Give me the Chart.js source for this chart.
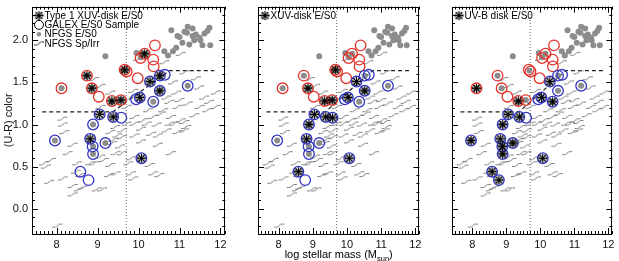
<!DOCTYPE html>
<html>
<head>
<meta charset="utf-8">
<script src="https://cdn.jsdelivr.net/npm/chart.js@4/dist/chart.umd.min.js"></script>
<style>
  body { margin: 0; background: #fff; }
  #wrap { position: relative; width: 619px; height: 261px; }
  canvas { position: absolute; top: 0; }
</style>
</head>
<body>
<div id="wrap">
  <canvas id="p1" width="232" height="261" style="left:0px"></canvas>
  <canvas id="p2" width="200" height="261" style="left:226px"></canvas>
  <canvas id="p3" width="199" height="261" style="left:420px"></canvas>
</div>
<script>
// NFGS Sp/Irr (squiggles)
const spIrrMass = [9.99, 11.03, 10.63, 8.91, 9.07, 9.31, 9.76, 9.87, 10.84, 11.12, 11.40, 11.48, 10.92, 10.68,
  11.60, 11.88, 11.72, 11.20, 10.95, 10.75, 11.00, 11.49, 11.88, 11.68, 11.36, 11.03, 10.79, 10.55, 10.23,
  9.90, 10.11, 10.35, 10.60, 11.12, 9.07, 9.71, 8.14, 8.19,
  9.90, 10.06, 10.31, 10.47, 10.68, 10.95, 11.11, 11.16, 10.87, 10.44, 10.20, 10.76, 9.90, 10.06, 10.47,
  10.79, 10.27, 9.82, 10.51, 10.36, 9.82, 9.31, 9.43, 9.71, 9.59, 9.39, 9.55, 9.60, 9.48, 9.36, 9.44, 9.59,
  9.75, 9.87,
  8.15, 8.39, 8.27, 7.86, 7.74, 7.69, 7.82, 8.15, 8.47, 8.39, 8.39, 8.63, 8.54, 8.91, 9.15, 9.07, 9.28,
  9.44, 9.31, 9.11, 8.98, 8.58, 8.82, 8.50, 8.02];
const spIrrColor = [1.78, 1.84, 1.74, 1.54, 1.46, 1.38, 1.31, 1.40, 1.50, 1.62, 1.55, 1.44, 1.38, 1.32,
  1.32, 1.38, 1.27, 1.25, 1.21, 1.27, 1.29, 1.21, 1.21, 1.17, 1.11, 1.05, 1.09, 1.13, 1.17,
  1.09, 1.05, 1.09, 1.17, 1.03, 1.21, 1.21, 1.07, 0.91,
  1.01, 0.95, 0.89, 0.87, 0.93, 0.91, 0.93, 0.97, 1.01, 1.00, 1.01, 1.01, 0.87, 0.80, 0.76,
  0.66, 0.52, 0.42, 0.40, 0.42, 0.60, 0.91, 0.97, 1.01, 0.85, 0.82, 0.74, 0.93, 0.87, 0.78, 0.66, 0.66,
  0.54, 0.36,
  1.00, 0.76, 0.66, 0.58, 0.50, 0.54, 0.32, 0.36, 0.44, 0.27, 0.17, 0.25, 0.23, 0.54, 0.58, 0.62, 0.40,
  0.42, 0.52, 0.23, 0.23, 0.40, 0.54, 0.54, -0.20];

// NFGS E/S0 (grey dots)
const e0Mass = [10.80, 11.00, 11.12, 11.20, 11.07, 11.32, 11.40, 11.49, 11.73, 11.61, 11.75, 10.92, 11.24,
  10.72, 10.84, 9.19, 9.95, 11.32, 11.18, 10.95, 11.36, 11.68, 11.56, 10.63, 11.51,
  8.12, 8.74, 8.86, 9.35, 9.57, 9.68, 10.15, 10.05, 8.89, 10.52, 10.36, 10.52, 11.20,
  7.96, 8.89, 8.89, 9.19];
const e0Color = [2.12, 2.04, 2.10, 2.16, 1.97, 2.05, 2.07, 2.03, 2.15, 2.08, 1.94, 1.91, 1.95,
  1.82, 1.87, 1.81, 1.85, 2.14, 2.09, 2.05, 2.00, 2.11, 1.94, 1.87, 2.00,
  1.43, 1.58, 1.43, 1.27, 1.29, 1.64, 1.84, 1.80, 1.00, 1.58, 1.27, 1.40, 1.46,
  0.81, 0.74, 0.65, 0.78];

// GALEX E/S0 sample (circles), seq: r = red sequence, b = blue sequence
const galexMass = [8.12, 8.74, 8.86, 9.03, 9.35, 9.57, 9.66, 9.71, 9.98, 10.15, 10.05, 10.40, 10.36, 10.37,
  8.89, 9.05, 9.38, 9.58, 10.03, 9.94, 10.28, 10.52, 10.64, 10.52, 10.36, 11.20,
  7.96, 8.82, 8.88, 8.89, 9.19, 8.58, 8.78, 10.07];
const galexColor = [1.43, 1.58, 1.43, 1.33, 1.28, 1.29, 1.65, 1.63, 1.55, 1.84, 1.79, 1.94, 1.77, 1.69,
  1.00, 1.12, 1.09, 1.08, 1.32, 1.30, 1.51, 1.58, 1.59, 1.40, 1.27, 1.46,
  0.81, 0.83, 0.74, 0.65, 0.78, 0.44, 0.34, 0.60];
const galexSeq = ['r','r','r','r','r','r','r','r','r','r','r','r','r','r',
  'b','b','b','b','b','b','b','b','b','b','b','b','b','b','b','b','b','b','b','b'];

// which GALEX galaxies carry the star in each panel
const type1Xuv = [1, 2, 4, 5, 6, 9, 15, 16, 18, 20, 21, 23, 27, 33];
const xuvDisk = [2, 4, 5, 6, 14, 15, 16, 17, 18, 20, 23, 27, 31, 33];
const uvbDisk = [0, 4, 14, 15, 16, 18, 20, 24, 26, 27, 28, 29, 30, 31, 32, 33];

// dividing lines
const divMass = [7.65, 9.37, 10.75, 11.85];
const divColor = [1.15, 1.15, 1.64, 1.64];
const cutMass = 9.7;

const xTicks = [8, 9, 10, 11, 12];
const yTicks = [0, 0.5, 1.0, 1.5, 2.0];

const FONT = "'Liberation Sans', Arial, Helvetica, sans-serif";
const RED = '#e5332b', BLUE = '#3236c2', GREY = '#8c8c8c', SQ = '#7c7c7c';

// little marker images
function makeStar() {
  const c = document.createElement('canvas'); c.width = 13; c.height = 13;
  const g = c.getContext('2d');
  g.strokeStyle = '#000'; g.lineWidth = 1.1;
  g.beginPath();
  for (let k = 0; k < 8; k++) {
    const a = k * Math.PI / 4;
    g.moveTo(6.5, 6.5); g.lineTo(6.5 + 4.6 * Math.cos(a), 6.5 + 4.6 * Math.sin(a));
  }
  g.stroke();
  g.beginPath(); g.setLineDash([1.2, 1.2]); g.arc(6.5, 6.5, 3.8, 0, Math.PI * 2); g.stroke();
  g.setLineDash([]);
  g.fillStyle = '#000'; g.beginPath(); g.arc(6.5, 6.5, 1.8, 0, Math.PI * 2); g.fill();
  return c;
}
function makeSquiggle(col) {
  const c = document.createElement('canvas'); c.width = 12; c.height = 6;
  const g = c.getContext('2d');
  g.strokeStyle = col; g.lineWidth = 1;
  g.beginPath();
  g.moveTo(1, 4.5); g.lineTo(3.5, 4.5);
  g.quadraticCurveTo(5, 4.5, 6, 3);
  g.quadraticCurveTo(7, 1.5, 8.5, 1.5);
  g.lineTo(11, 1.5);
  g.stroke();
  return c;
}
const starImg = makeStar();
const squigImg = makeSquiggle(SQ);

const pts = (xs, ys) => xs.map((m, i) => ({ x: m, y: ys[i] }));

// frame with inward ticks on all sides
const frameTicks = {
  id: 'frameTicks',
  afterDraw(chart) {
    const { ctx, chartArea: a, scales: { x, y } } = chart;
    ctx.save();
    ctx.strokeStyle = '#000'; ctx.lineWidth = 1;
    ctx.beginPath();
    for (let i = 75; i <= 121; i++) {
      const px = Math.round(x.getPixelForValue(i / 10)) + 0.5;
      const len = i % 10 === 0 ? 6 : 3;
      ctx.moveTo(px, a.bottom); ctx.lineTo(px, a.bottom - len);
      ctx.moveTo(px, a.top); ctx.lineTo(px, a.top + len);
    }
    for (let i = -2; i <= 23; i++) {
      const py = Math.round(y.getPixelForValue(i / 10)) + 0.5;
      const len = i % 5 === 0 ? 6 : 3;
      ctx.moveTo(a.left, py); ctx.lineTo(a.left + len, py);
      ctx.moveTo(a.right, py); ctx.lineTo(a.right - len, py);
    }
    ctx.stroke();
    ctx.strokeRect(Math.round(a.left) + 0.5, Math.round(a.top) + 0.5,
      Math.round(a.right - a.left) - 1, Math.round(a.bottom - a.top));
    ctx.restore();
  }
};

// in-plot legend and x title
const panelText = {
  id: 'panelText',
  afterDraw(chart, args, opts) {
    const { ctx, chartArea: a } = chart;
    ctx.save();
    ctx.font = '10px ' + FONT;
    ctx.textBaseline = 'middle';
    ctx.fillStyle = '#000';
    (opts.items || []).forEach((it, i) => {
      const yy = a.top + 9 + i * 9.3;
      const sx = a.left + 7;
      if (it.sym === 'star') ctx.drawImage(starImg, sx - 6.5, yy - 6.5);
      if (it.sym === 'circle') {
        ctx.strokeStyle = '#000'; ctx.lineWidth = 1;
        ctx.beginPath(); ctx.arc(sx, yy, 4.5, 0, Math.PI * 2); ctx.stroke();
      }
      if (it.sym === 'dot') {
        ctx.fillStyle = GREY; ctx.beginPath(); ctx.arc(sx, yy, 2.2, 0, Math.PI * 2); ctx.fill();
      }
      if (it.sym === 'squig') ctx.drawImage(makeSquiggle('#333'), sx - 6, yy - 3);
      ctx.fillStyle = '#000';
      ctx.fillText(it.text, sx + 5.5, yy + 0.5);
    });
    if (opts.xTitle) {
      ctx.font = '11px ' + FONT;
      const main = 'log stellar mass (M', sub = 'sun', end = ')';
      const w1 = ctx.measureText(main).width, w3 = ctx.measureText(end).width;
      ctx.font = '7.5px ' + FONT;
      const w2 = ctx.measureText(sub).width;
      let x0 = (a.left + a.right) / 2 - (w1 + w2 + w3) / 2;
      const yb = 258;
      ctx.textBaseline = 'alphabetic';
      ctx.font = '11px ' + FONT; ctx.fillText(main, x0, yb); x0 += w1;
      ctx.font = '7.5px ' + FONT; ctx.fillText(sub, x0, yb + 2.5); x0 += w2;
      ctx.font = '11px ' + FONT; ctx.fillText(end, x0, yb);
    }
    ctx.restore();
  }
};

function makePanel(id, starIdx, items, showY, xTitle, padRight) {
  const starPts = starIdx.map(i => ({ x: galexMass[i], y: galexColor[i] }));
  const redPts = pts(galexMass, galexColor).filter((p, i) => galexSeq[i] === 'r');
  const bluePts = pts(galexMass, galexColor).filter((p, i) => galexSeq[i] === 'b');
  new Chart(document.getElementById(id), {
    type: 'scatter',
    data: {
      datasets: [
        { data: pts(divMass, divColor), showLine: true, borderColor: '#222', borderWidth: 1.2,
          borderDash: [4, 3], pointRadius: 0, order: 8 },
        { data: [{ x: cutMass, y: -0.3 }, { x: cutMass, y: 2.4 }], showLine: true, borderColor: '#666',
          borderWidth: 1, borderDash: [1, 2], pointRadius: 0, order: 8 },
        { data: pts(spIrrMass, spIrrColor), pointStyle: squigImg, order: 7 },
        { data: pts(e0Mass, e0Color), pointStyle: 'circle', pointRadius: 3, backgroundColor: GREY,
          borderWidth: 0, order: 6 },
        { data: redPts, pointStyle: 'circle', pointRadius: 5.3, borderColor: RED, borderWidth: 1.3,
          backgroundColor: 'rgba(0,0,0,0)', order: 5 },
        { data: bluePts, pointStyle: 'circle', pointRadius: 5.3, borderColor: BLUE, borderWidth: 1.3,
          backgroundColor: 'rgba(0,0,0,0)', order: 4 },
        { data: starPts, pointStyle: starImg, order: 1 }
      ]
    },
    options: {
      responsive: false,
      animation: false,
      devicePixelRatio: 1,
      layout: { padding: { left: 0, right: padRight, top: 5, bottom: 0 } },
      plugins: {
        legend: { display: false },
        tooltip: { enabled: false },
        panelText: { items: items, xTitle: xTitle }
      },
      scales: {
        x: {
          type: 'linear', min: 7.4, max: 12.12,
          grid: { display: false, drawTicks: false },
          border: { display: false },
          afterBuildTicks: s => { s.ticks = xTicks.map(v => ({ value: v })); },
          afterFit: s => { s.height = 27; s.paddingLeft = 0; s.paddingRight = 0; },
          ticks: { padding: 4, color: '#111', font: { size: 11, family: FONT }, maxRotation: 0,
            callback: v => String(v) }
        },
        y: {
          display: showY,
          type: 'linear', min: -0.3, max: 2.4,
          grid: { display: false, drawTicks: false },
          border: { display: false },
          afterBuildTicks: s => { s.ticks = yTicks.map(v => ({ value: v })); },
          afterFit: s => { s.width = 32; s.paddingTop = 0; s.paddingBottom = 0; },
          title: { display: true, text: '(U-R) color', color: '#111', font: { size: 11, family: FONT },
            padding: { top: 2, bottom: 0 } },
          ticks: { padding: 4, color: '#111', font: { size: 11, family: FONT },
            callback: v => v.toFixed(1) }
        }
      }
    },
    plugins: [frameTicks, panelText]
  });
}

makePanel('p1', type1Xuv, [
  { sym: 'star', text: 'Type 1 XUV-disk E/S0' },
  { sym: 'circle', text: 'GALEX E/S0 Sample' },
  { sym: 'dot', text: 'NFGS E/S0' },
  { sym: 'squig', text: 'NFGS Sp/Irr' }
], true, false, 6);
makePanel('p2', xuvDisk, [{ sym: 'star', text: 'XUV-disk E/S0' }], false, true, 6);
makePanel('p3', uvbDisk, [{ sym: 'star', text: 'UV-B disk E/S0' }], false, false, 6);
</script>
</body>
</html>
